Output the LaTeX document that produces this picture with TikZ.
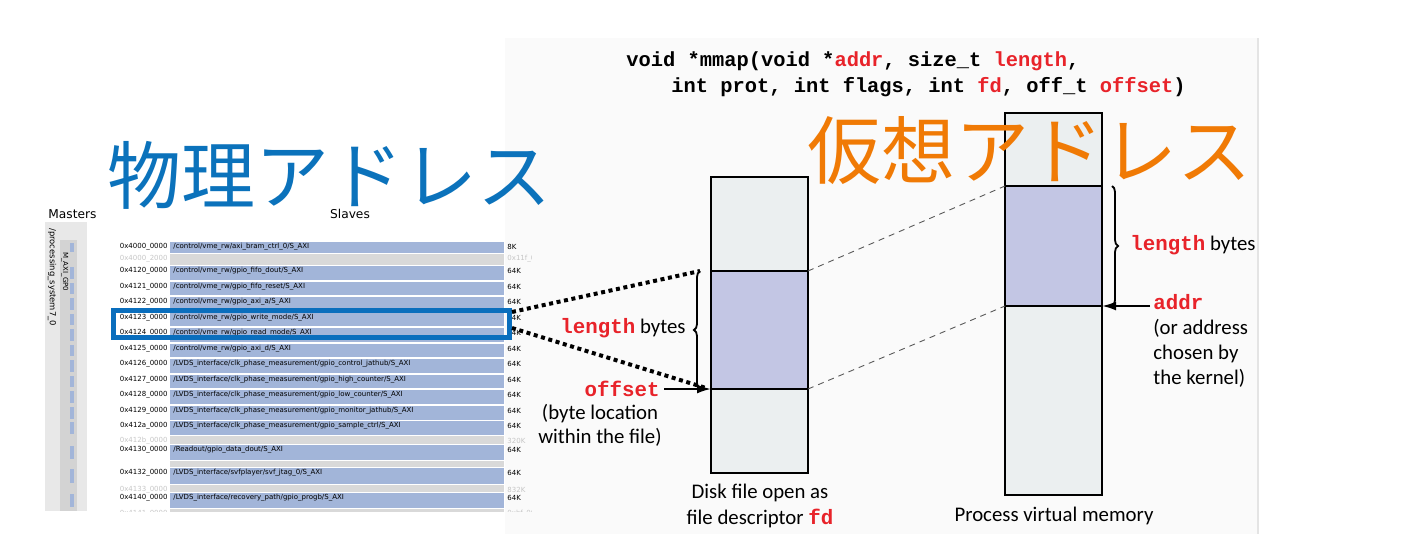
\documentclass[tikz,border=0pt]{standalone}
\usepackage{fontspec}
\setmainfont{Carlito}
\setmonofont{Liberation Mono}
\newfontfamily\jpfont{Noto Sans CJK JP}
\newfontfamily\vivfont{DejaVu Sans}
\usepackage{tikz}
\usetikzlibrary{arrows.meta,decorations.pathreplacing}
\definecolor{titleblue}{HTML}{0B72BB}
\definecolor{titleorange}{HTML}{F07A05}
\definecolor{codered}{HTML}{E8232A}
\definecolor{cell}{HTML}{EBEFF0}
\definecolor{mapped}{HTML}{C3C6E4}
\definecolor{panel}{HTML}{FAFAFA}
\definecolor{paneledge}{HTML}{E4E4E4}
\definecolor{slavebar}{HTML}{A2B5D9}
\definecolor{gapbar}{HTML}{D9D9D9}
\definecolor{faint}{HTML}{C6C6C6}
\definecolor{mastbg}{HTML}{E8E8E8}
\definecolor{portbg}{HTML}{D3D3D3}
\definecolor{pick}{HTML}{0A6EBD}
\newcommand{\kw}[1]{{\ttfamily\bfseries\color{codered}#1}}
\newcommand{\clk}{/LVDS\_interface/clk\_phase\_measurement}
\tikzset{
  cellbox/.style={draw=black, line width=1.1pt},
  mapline/.style={draw=black!65, line width=0.45pt, dash pattern=on 3pt off 2.5pt},
  dotline/.style={draw=black, line width=2pt, dash pattern=on 2pt off 1.8pt},
  pointer/.style={draw=black, line width=1pt, -{Latex[length=7pt,width=4.5pt]}},
  curly/.style={draw=black, line width=0.9pt, decorate, decoration={brace, amplitude=3pt}},
  lab/.style={font=\fontsize{10.4}{12.4}\selectfont, inner sep=0pt},
  codeline/.style={font=\fontsize{10.2}{12}\selectfont\ttfamily\bfseries, inner sep=0pt, anchor=base west},
  vtext/.style={font=\vivfont\fontsize{3.5}{4}\selectfont, inner sep=0pt},
  vhead/.style={font=\vivfont\fontsize{6.1}{7}\selectfont, inner sep=0pt},
  title/.style={font=\jpfont\fontsize{37}{40}\selectfont, inner sep=0pt},
}
\begin{document}
\begin{tikzpicture}[x=0.5pt,y=-0.5pt]
  \useasboundingbox (0,0) rectangle (1418,534);

  % mmap figure backdrop
  \fill[panel] (505,38) rectangle (1258,534);
  \draw[paneledge, line width=0.6pt] (1258,38) -- (1258,534);

  % Vivado address editor
  \begin{scope}
    \clip (44,200) rectangle (531,511);
    \node[vhead, anchor=west] (masters) at (48,214) {Masters};
    \node[vhead] (slaves) at (350,214) {Slaves};
    \fill[mastbg] (45,222) rectangle (87,511);
    \fill[portbg] (60,240) rectangle (77,511);
    \node[vhead, font=\vivfont\fontsize{4.2}{5}\selectfont, rotate=-90, anchor=west] (ps7) at (52,228) {/processing\_system7\_0};
    \node[vtext, rotate=-90, anchor=west] (gp0) at (65,252) {M\_AXI\_GP0};
    \foreach \ya/\yb/\adr/\slv/\sz [count=\i] in {
        242/253/0x4000\_0000/{/control/vme\_rw/axi\_bram\_ctrl\_0/S\_AXI}/8K,
        266/280/0x4120\_0000/{/control/vme\_rw/gpio\_fifo\_dout/S\_AXI}/64K,
        282/295/0x4121\_0000/{/control/vme\_rw/gpio\_fifo\_reset/S\_AXI}/64K,
        297/311/0x4122\_0000/{/control/vme\_rw/gpio\_axi\_a/S\_AXI}/64K,
        313/326/0x4123\_0000/{/control/vme\_rw/gpio\_write\_mode/S\_AXI}/64K,
        328/342/0x4124\_0000/{/control/vme\_rw/gpio\_read\_mode/S\_AXI}/64K,
        344/357/0x4125\_0000/{/control/vme\_rw/gpio\_axi\_d/S\_AXI}/64K,
        359/373/0x4126\_0000/{\clk/gpio\_control\_jathub/S\_AXI}/64K,
        375/388/0x4127\_0000/{\clk/gpio\_high\_counter/S\_AXI}/64K,
        390/404/0x4128\_0000/{\clk/gpio\_low\_counter/S\_AXI}/64K,
        406/420/0x4129\_0000/{\clk/gpio\_monitor\_jathub/S\_AXI}/64K,
        421/435/0x412a\_0000/{\clk/gpio\_sample\_ctrl/S\_AXI}/64K,
        445/460/0x4130\_0000/{/Readout/gpio\_data\_dout/S\_AXI}/64K,
        468/484/0x4132\_0000/{/LVDS\_interface/svfplayer/svf\_jtag\_0/S\_AXI}/64K,
        493/508/0x4140\_0000/{/LVDS\_interface/recovery\_path/gpio\_progb/S\_AXI}/64K} {
      \fill[slavebar] (170,\ya) rectangle (504,\yb);
      \fill[slavebar] (70,\ya+1) rectangle (74,\yb-1);
      \node[vtext, anchor=east] (adr\i) at (168,\ya+5) {\adr};
      \node[vtext, anchor=west] (slv\i) at (173,\ya+5) {\slv};
      \node[vtext, anchor=west] (sz\i) at (507,\ya+5) {\sz};
    }
    \foreach \ya/\yb/\adr/\sz [count=\i] in {
        254/265/0x4000\_2000/0x11f\_0000,
        436/444/0x412b\_0000/320K,
        461/467//,
        485/492/0x4133\_0000/832K,
        509/520/0x4141\_0000/0xbf\_0000} {
      \fill[gapbar] (170,\ya) rectangle (504,\yb);
      \node[vtext, text=faint, anchor=east] (gadr\i) at (168,\ya+5) {\adr};
      \node[vtext, text=faint, anchor=west] (gsz\i) at (507,\ya+5) {\sz};
    }
  \end{scope}

  % prototype
  \node[codeline] (sig1) at (626,67) {void *mmap(void *\textcolor{codered}{addr}, size\_t \textcolor{codered}{length},};
  \node[codeline] (sig2) at (671,93) {int prot, int flags, int \textcolor{codered}{fd}, off\_t \textcolor{codered}{offset})};

  % file on disk
  \coordinate (fileTL) at (711,177);
  \coordinate (fileA) at (711,271);
  \coordinate (fileB) at (711,389);
  \coordinate (fileAr) at (808,271);
  \coordinate (fileBr) at (808,389);
  \coordinate (fileBR) at (808,473);
  \fill[cell] (fileTL) rectangle (fileBR);
  \fill[mapped] (fileA) rectangle (fileBr);
  \draw[cellbox] (fileTL) rectangle (fileBR);
  \draw[cellbox] (fileA) -- (fileAr);
  \draw[cellbox] (fileB) -- (fileBr);

  % virtual memory
  \coordinate (vmTL) at (1005,113);
  \coordinate (vmA) at (1005,186);
  \coordinate (vmB) at (1005,306);
  \coordinate (vmAr) at (1102,186);
  \coordinate (vmBr) at (1102,306);
  \coordinate (vmBR) at (1102,495);
  \fill[cell] (vmTL) rectangle (vmBR);
  \fill[mapped] (vmA) rectangle (vmBr);
  \draw[cellbox] (vmTL) rectangle (vmBR);
  \draw[cellbox] (vmA) -- (vmAr);
  \draw[cellbox] (vmB) -- (vmBr);

  \draw[mapline] (fileAr) -- (vmA);
  \draw[mapline] (fileBr) -- (vmB);

  % left annotations
  \coordinate (lbTop) at (700,271);
  \coordinate (lbBot) at (700,389);
  \draw[curly] (lbBot) -- (lbTop);
  \node[lab, anchor=base west] (lenL) at (560,333) {\kw{length} bytes};
  \node[lab, anchor=east] (offs) at (660,389) {\kw{offset}};
  \draw[pointer] ([xshift=2pt]offs.east) -- (offs.east -| fileB);
  \node[lab, anchor=base, align=center, font=\fontsize{10.4}{12}\selectfont] (offnote) at (600,443) {(byte location\\within the file)};
  \node[lab, align=center, font=\fontsize{10.4}{13}\selectfont] (filecap) at (760,506) {Disk file open as\\file descriptor \kw{fd}};

  % right annotations
  \coordinate (rbTop) at (1112,186);
  \coordinate (rbBot) at (1112,306);
  \draw[curly] (rbTop) -- (rbBot);
  \node[lab, anchor=base west] (lenR) at (1130,250) {\kw{length} bytes};
  \coordinate (addrTail) at (1150,306);
  \draw[pointer] (addrTail) -- (vmBr);
  \node[lab, anchor=base west, align=left, font=\fontsize{10.4}{12.5}\selectfont] (addrnote) at (1153,384) {\kw{addr}\\(or address\\chosen by\\the kernel)};
  \node[lab] (vmcap) at (1054,516) {Process virtual memory};

  % selected slaves
  \node[draw=pick, line width=2.5pt, minimum width=198pt, minimum height=13.5pt, inner sep=0pt] (sel) at (311.5,324) {};
  \coordinate (selA) at (512,312);
  \coordinate (selB) at (512,328);
  \draw[dotline] (selA) -- (lbTop);
  \draw[dotline] (selB) -- (706,388);

  % titles
  \node[title, text=titleblue] (phys) at (329,175) {物理アドレス};
  \node[title, text=titleorange] (virt) at (1029,151) {仮想アドレス};
\end{tikzpicture}
\end{document}
